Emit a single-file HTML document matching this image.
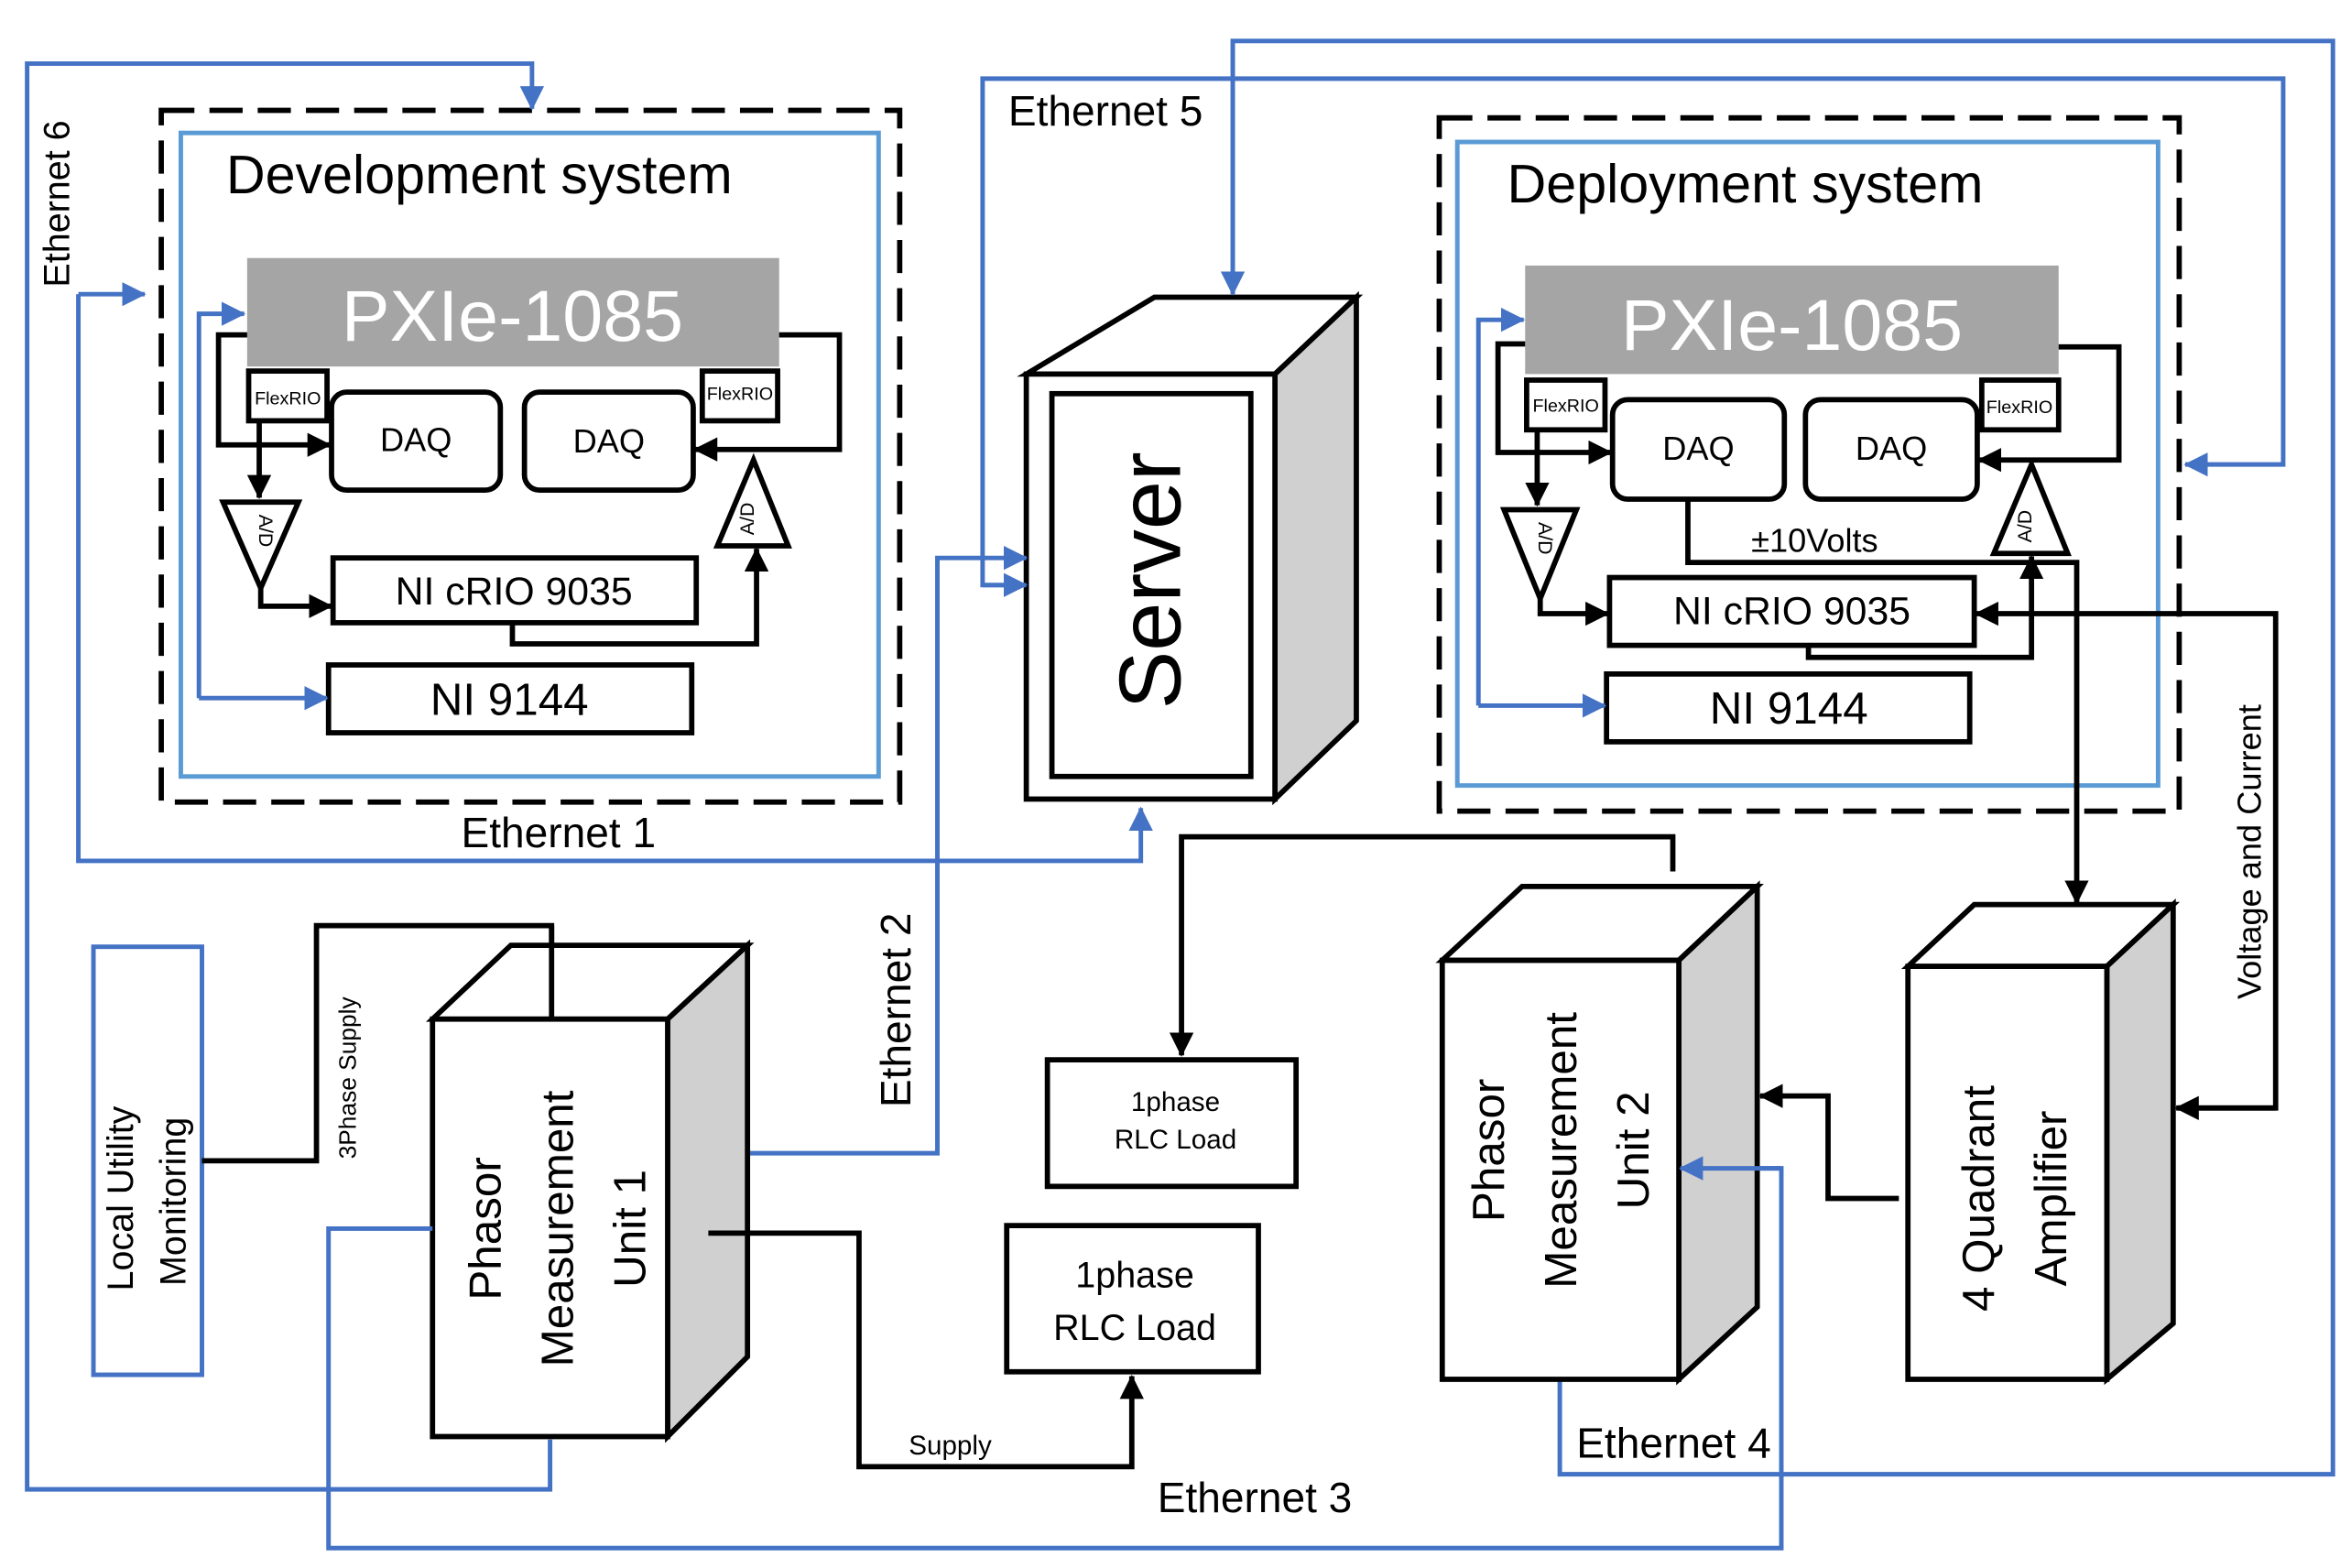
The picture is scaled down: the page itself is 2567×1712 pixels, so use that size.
<!DOCTYPE html>
<html><head><meta charset="utf-8"><style>
html,body{margin:0;padding:0;background:#fff;}
svg{display:block;}
text{font-family:"Liberation Sans","DejaVu Sans",sans-serif;fill:#000;}
</style></head><body>
<svg width="2567" height="1712" viewBox="0 0 1560 1040" xmlns="http://www.w3.org/2000/svg">
<defs>
<marker id="ab" markerWidth="16" markerHeight="16" refX="15" refY="8" orient="auto" markerUnits="userSpaceOnUse" viewBox="0 0 16 16"><path d="M0,0 L16,8 L0,16z" fill="#000"/></marker>
<marker id="abl" markerWidth="16" markerHeight="16" refX="15" refY="8" orient="auto" markerUnits="userSpaceOnUse" viewBox="0 0 16 16"><path d="M0,0 L16,8 L0,16z" fill="#4472C4"/></marker>
</defs>
<style>
.k{fill:none;stroke:#000;stroke-width:3.5}
.b{fill:none;stroke:#4472C4;stroke-width:3}
.bx{fill:#fff;stroke:#000;stroke-width:3.5}
</style>
<!-- Development system -->
<rect x="107" y="73" width="490" height="459" fill="none" stroke="#000" stroke-width="3.5" stroke-dasharray="22,10"/>
<rect x="120" y="88" width="463" height="427" fill="none" stroke="#5B9BD5" stroke-width="3"/>
<text x="150" y="128" font-size="36">Development system</text>
<rect x="164" y="171" width="353" height="72" fill="#A5A5A5"/>
<text x="340" y="226" font-size="48" style="fill:#fff" text-anchor="middle">PXIe-1085</text>
<path class="k" d="M164,222 H145 V295 H219" marker-end="url(#ab)"/>
<path class="k" d="M172,279 V330" marker-end="url(#ab)"/>
<path class="k" d="M517,222 H557 V298 H461" marker-end="url(#ab)"/>
<rect class="bx" x="165" y="246" width="52" height="33"/><text x="191" y="268" font-size="12" text-anchor="middle">FlexRIO</text>
<rect class="bx" x="466" y="246" width="50" height="33"/><text x="491" y="265" font-size="12" text-anchor="middle">FlexRIO</text>
<rect class="bx" x="220" y="260" width="112" height="65" rx="10"/><text x="276" y="299" font-size="22" text-anchor="middle">DAQ</text>
<rect class="bx" x="348" y="260" width="112" height="65" rx="10"/><text x="404" y="300" font-size="22" text-anchor="middle">DAQ</text>
<path class="bx" d="M148,333 L198,333 L173,390z"/><text transform="translate(172,352) rotate(90)" font-size="13" text-anchor="middle">A/D</text>
<path class="bx" d="M476,362 L523,362 L500,305z"/><text transform="translate(500,344) rotate(-90)" font-size="13" text-anchor="middle">A/D</text>
<path class="k" d="M173,390 V402 H220" marker-end="url(#ab)"/>
<rect class="bx" x="221" y="370" width="241" height="43"/><text x="341" y="401" font-size="26" text-anchor="middle">NI cRIO 9035</text>
<path class="k" d="M340,413 V427 H502 V364" marker-end="url(#ab)"/>
<rect class="bx" x="218" y="441" width="241" height="45"/><text x="338" y="474" font-size="30" text-anchor="middle">NI 9144</text>
<path class="b" d="M132,463 V208 H162" marker-end="url(#abl)"/>
<path class="b" d="M132,463 H217" marker-end="url(#abl)"/>
<!-- Ethernet 6 -->
<path class="b" d="M365,955 V988 H18 V42 H353 V72" marker-end="url(#abl)"/>
<text transform="translate(46,135) rotate(-90)" font-size="24" text-anchor="middle">Ethernet 6</text>
<!-- Ethernet 1 -->
<path class="b" d="M52,195 V571 H757 V536" marker-end="url(#abl)"/>
<path class="b" d="M52,195 H96" marker-end="url(#abl)"/>
<text x="306" y="562" font-size="28">Ethernet 1</text>
<!-- Server -->
<path d="M681,248 L766,197 L900,197 L846,248z" fill="#fff" stroke="#000" stroke-width="3.5"/>
<path d="M846,248 L900,197 L900,478 L846,530z" fill="#D0D0D0" stroke="#000" stroke-width="3.5"/>
<rect class="bx" x="681" y="248" width="165" height="282"/>
<rect class="bx" x="698" y="261" width="132" height="254"/>
<text transform="translate(783,385) rotate(-90)" font-size="58" text-anchor="middle">Server</text>
<!-- Ethernet 5 lines -->
<path class="b" d="M1035,915 V978 H1548 V27 H818 V195" marker-end="url(#abl)"/>
<path class="b" d="M680,388 H652 V52 H1515 V308 H1450" marker-end="url(#abl)"/>
<path class="b" d="M652,388 H681" marker-end="url(#abl)"/>
<text x="669" y="83" font-size="28">Ethernet  5</text>
<!-- Ethernet 2 -->
<path class="b" d="M496,765 H622 V370 H681" marker-end="url(#abl)"/>
<text transform="translate(604,670) rotate(-90)" font-size="28" text-anchor="middle">Ethernet 2</text>
<!-- Deployment system -->
<rect x="955" y="78" width="491" height="460" fill="none" stroke="#000" stroke-width="3.5" stroke-dasharray="22,10"/>
<rect x="967" y="94" width="465" height="427" fill="none" stroke="#5B9BD5" stroke-width="3"/>
<text x="1000" y="134" font-size="36">Deployment system</text>
<rect x="1012" y="176" width="354" height="72" fill="#A5A5A5"/>
<text x="1189" y="232" font-size="48" style="fill:#fff" text-anchor="middle">PXIe-1085</text>
<path class="k" d="M1012,228 H994 V300 H1069" marker-end="url(#ab)"/>
<path class="k" d="M1020,285 V335" marker-end="url(#ab)"/>
<path class="k" d="M1366,230 H1406 V305 H1313" marker-end="url(#ab)"/>
<rect class="bx" x="1013" y="252" width="52" height="33"/><text x="1039" y="273" font-size="12" text-anchor="middle">FlexRIO</text>
<rect class="bx" x="1315" y="252" width="51" height="33"/><text x="1340" y="274" font-size="12" text-anchor="middle">FlexRIO</text>
<rect class="bx" x="1070" y="265" width="114" height="66" rx="10"/><text x="1127" y="305" font-size="22" text-anchor="middle">DAQ</text>
<rect class="bx" x="1198" y="265" width="114" height="66" rx="10"/><text x="1255" y="305" font-size="22" text-anchor="middle">DAQ</text>
<path class="bx" d="M998,338 L1046,338 L1022,397z"/><text transform="translate(1021,357) rotate(90)" font-size="13" text-anchor="middle">A/D</text>
<path class="bx" d="M1323,367 L1372,367 L1348,308z"/><text transform="translate(1348,349) rotate(-90)" font-size="13" text-anchor="middle">A/D</text>
<text x="1162" y="366" font-size="22">±10Volts</text>
<path class="k" d="M1120,331 V373 H1378 V599" marker-end="url(#ab)"/>
<path class="k" d="M1022,397 V407 H1067" marker-end="url(#ab)"/>
<rect class="bx" x="1068" y="383" width="242" height="45"/><text x="1189" y="414" font-size="26" text-anchor="middle">NI cRIO 9035</text>
<path class="k" d="M1200,428 V436 H1348 V369" marker-end="url(#ab)"/>
<path class="k" d="M1445,735 H1510 V407 H1311" marker-end="url(#ab)"/>
<path class="k" d="M1510,735 H1444" marker-end="url(#ab)"/>
<text transform="translate(1500,565) rotate(-90)" font-size="22" text-anchor="middle">Voltage and Current</text>
<rect class="bx" x="1066" y="447" width="241" height="45"/><text x="1187" y="480" font-size="30" text-anchor="middle">NI 9144</text>
<path class="b" d="M981,468 V212 H1011" marker-end="url(#abl)"/>
<path class="b" d="M981,468 H1065" marker-end="url(#abl)"/>
<!-- Local utility -->
<rect x="62" y="628" width="72" height="284" fill="none" stroke="#4472C4" stroke-width="3"/>
<text transform="translate(88,795) rotate(-90)" font-size="24" text-anchor="middle">Local Utility</text>
<text transform="translate(123,797) rotate(-90)" font-size="24" text-anchor="middle">Monitoring</text>
<path class="k" d="M134,770 H210 V614 H366 V676"/>
<text transform="translate(236,715) rotate(-90)" font-size="16" text-anchor="middle">3Phase Supply</text>
<!-- PMU1 -->
<path d="M287,676 L339,627 L496,627 L443,676z" fill="#fff" stroke="#000" stroke-width="3.5"/>
<path d="M443,676 L496,627 L496,900 L443,953z" fill="#D0D0D0" stroke="#000" stroke-width="3.5"/>
<rect class="bx" x="287" y="676" width="156" height="277"/>
<path class="k" d="M366,614 V676"/>
<text transform="translate(332,815) rotate(-90)" font-size="30" text-anchor="middle">Phasor</text>
<text transform="translate(380,815) rotate(-90)" font-size="30" text-anchor="middle">Measurement</text>
<text transform="translate(428,815) rotate(-90)" font-size="30" text-anchor="middle">Unit 1</text>
<path class="b" d="M287,815 H218 V1027 H1182 V775 H1115" marker-end="url(#abl)"/>
<path class="k" d="M470,818 H570 V973 H751 V913" marker-end="url(#ab)"/>
<text x="603" y="965" font-size="18">Supply</text>
<text x="768" y="1003" font-size="28">Ethernet 3</text>
<!-- loads -->
<rect class="bx" x="695" y="703" width="165" height="84"/>
<text x="780" y="737" font-size="18" text-anchor="middle">1phase</text>
<text x="780" y="762" font-size="18" text-anchor="middle">RLC Load</text>
<rect class="bx" x="668" y="813" width="167" height="97"/>
<text x="753" y="854" font-size="24" text-anchor="middle">1phase</text>
<text x="753" y="889" font-size="24" text-anchor="middle">RLC Load</text>
<path class="k" d="M1110,578 V555 H784 V700" marker-end="url(#ab)"/>
<!-- PMU2 -->
<path d="M957,637 L1010,588 L1166,588 L1114,637z" fill="#fff" stroke="#000" stroke-width="3.5"/>
<path d="M1114,637 L1166,588 L1166,867 L1114,915z" fill="#D0D0D0" stroke="#000" stroke-width="3.5"/>
<rect class="bx" x="957" y="637" width="157" height="278"/>
<text transform="translate(998,763) rotate(-90)" font-size="30" text-anchor="middle">Phasor</text>
<text transform="translate(1046,763) rotate(-90)" font-size="30" text-anchor="middle">Measurement</text>
<text transform="translate(1094,763) rotate(-90)" font-size="30" text-anchor="middle">Unit 2</text>
<path class="b" d="M1182,775 H1115" marker-end="url(#abl)"/>
<text x="1046" y="967" font-size="28">Ethernet 4</text>
<!-- Amplifier -->
<path d="M1266,641 L1310,600 L1442,600 L1398,641z" fill="#fff" stroke="#000" stroke-width="3.5"/>
<path d="M1398,641 L1442,600 L1442,878 L1398,915z" fill="#D0D0D0" stroke="#000" stroke-width="3.5"/>
<rect class="bx" x="1266" y="641" width="132" height="274"/>
<text transform="translate(1323,795) rotate(-90)" font-size="30" text-anchor="middle">4 Quadrant</text>
<text transform="translate(1371,795) rotate(-90)" font-size="30" text-anchor="middle">Amplifier</text>
<path class="k" d="M1260,795 H1213 V727 H1168" marker-end="url(#ab)"/>
</svg>
</body></html>
